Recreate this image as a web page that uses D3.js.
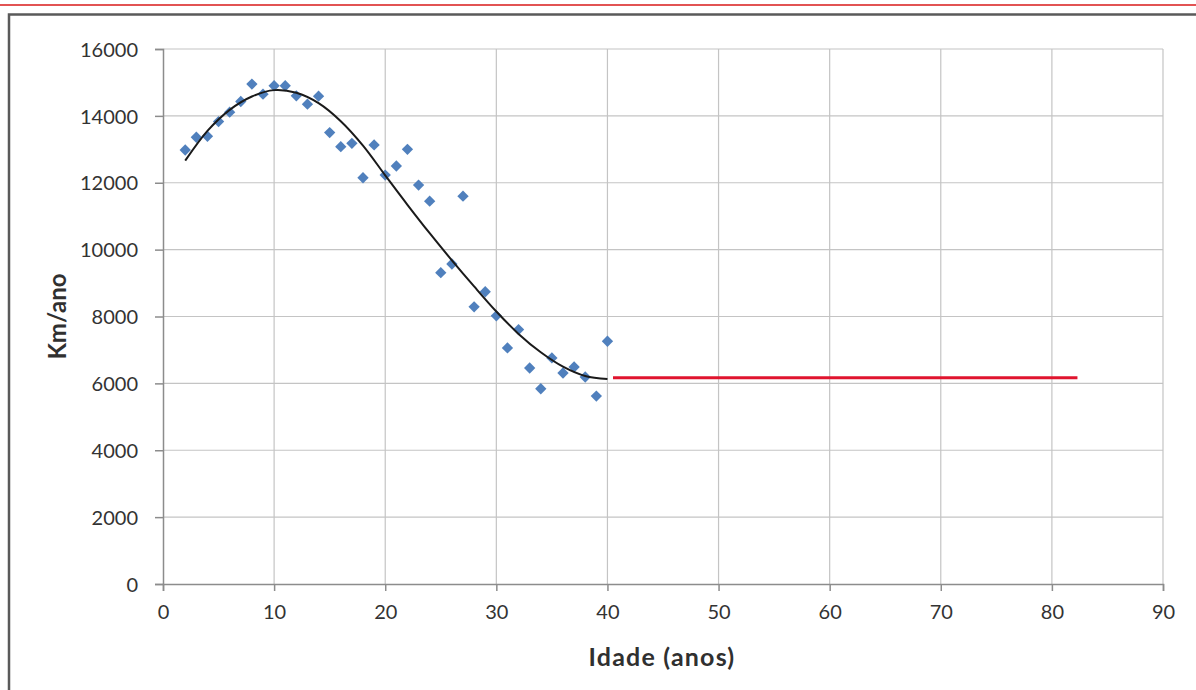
<!DOCTYPE html>
<html>
<head>
<meta charset="utf-8">
<script src="https://cdn.jsdelivr.net/npm/d3@7"></script>
<style>
  body { margin: 0; background: #fff; }
  svg { display: block; }
  .tick text { font-family: Lato, "Open Sans", sans-serif; font-size: 20px; fill: #333; }
  .title { font-family: Lato, "Open Sans", sans-serif; font-size: 24px; font-weight: bold; fill: #303030; }
</style>
</head>
<body>
<svg id="chart"></svg>
<script>
// observed points (idade, km/ano)
const ages = [2, 3, 4, 5, 6, 7, 8, 9, 10, 11, 12, 13, 14, 15, 16, 17, 18, 19, 20, 21,
  22, 23, 24, 25, 26, 27, 28, 29, 30, 31, 32, 33, 34, 35, 36, 37, 38, 39, 40];
const kmPerYear = [12980, 13360, 13390, 13830, 14110, 14430, 14950, 14650, 14900, 14900,
  14600, 14350, 14590, 13500, 13080, 13180, 12150, 13130, 12230, 12500,
  13000, 11930, 11450, 9310, 9570, 11600, 8290, 8740, 8020, 7060,
  7610, 6460, 5840, 6760, 6310, 6490, 6190, 5620, 7260];

// trend line
const trendAges = [2, 4, 6, 8, 10, 12, 14, 16, 18, 20, 22, 24, 26, 28, 30, 32, 34, 36, 38, 40];
const trendKm = [12660, 13550, 14180, 14580, 14770, 14690, 14380, 13840, 13110, 12220,
  11340, 10490, 9680, 8900, 8150, 7480, 6930, 6500, 6220, 6130];

// constant segment after 40 years
const flatAges = [40.5, 82.3];
const flatKm = [6170, 6170];

const xTicks = [0, 10, 20, 30, 40, 50, 60, 70, 80, 90];
const yTicks = [0, 2000, 4000, 6000, 8000, 10000, 12000, 14000, 16000];

const W = 1196, H = 690;
const margin = { top: 49, right: 33, bottom: 106, left: 163 };
const width = W - margin.left - margin.right;
const height = H - margin.top - margin.bottom;

const svg = d3.select('#chart').attr('width', W).attr('height', H);

// page decorations: red rule and the frame
svg.append('line')
  .attr('x1', 0).attr('x2', W).attr('y1', 5).attr('y2', 5)
  .attr('stroke', '#d81a1a').attr('stroke-width', 1.5);
svg.append('path')
  .attr('d', `M9,${H + 5}V14.5H${W + 5}`)
  .attr('fill', 'none').attr('stroke', '#5a5a5a').attr('stroke-width', 2.5);

const x = d3.scaleLinear().domain([0, 90]).range([0, width]);
const y = d3.scaleLinear().domain([0, 16000]).range([height, 0]);

const chart = svg.append('g')
  .attr('transform', `translate(${margin.left}, ${margin.top})`);

// grid
chart.append('g').selectAll('line').data(yTicks.slice(1)).enter().append('line')
  .attr('x1', 0).attr('x2', width)
  .attr('y1', d => y(d)).attr('y2', d => y(d))
  .attr('stroke', '#c4c4c4').attr('stroke-width', 1.2);
chart.append('g').selectAll('line').data(xTicks.slice(1)).enter().append('line')
  .attr('y1', 0).attr('y2', height)
  .attr('x1', d => x(d)).attr('x2', d => x(d))
  .attr('stroke', '#c4c4c4').attr('stroke-width', 1.2);

const xAxis = d3.axisBottom(x).tickValues(xTicks).tickFormat(d3.format('d')).tickSize(7).tickPadding(14);
const yAxis = d3.axisLeft(y).tickValues(yTicks).tickFormat(d3.format('d')).tickSize(8).tickPadding(17);

const gx = chart.append('g')
  .attr('transform', `translate(0, ${height})`)
  .call(xAxis);
const gy = chart.append('g').call(yAxis);
[gx, gy].forEach(g => {
  g.select('.domain').attr('stroke', '#8c8c8c').attr('stroke-width', 1.5);
  g.selectAll('.tick line').attr('stroke', '#8c8c8c').attr('stroke-width', 1.5);
});
gy.selectAll('.tick text').attr('dy', '0.36em');

// points
chart.append('g').selectAll('path').data(ages).enter().append('path')
  .attr('d', d3.symbol(d3.symbolSquare, 64))
  .attr('transform', (d, i) => `translate(${x(d)}, ${y(kmPerYear[i])}) rotate(45)`)
  .attr('fill', '#5080bd');

// trend line
const line = d3.line().x(d => x(d[0])).y(d => y(d[1])).curve(d3.curveCatmullRom);
chart.append('path')
  .datum(trendAges.map((a, i) => [a, trendKm[i]]))
  .attr('d', line)
  .attr('fill', 'none').attr('stroke', '#1a1a1a').attr('stroke-width', 2);

// flat segment
chart.append('path')
  .datum(flatAges.map((a, i) => [a, flatKm[i]]))
  .attr('d', d3.line().x(d => x(d[0])).y(d => y(d[1])))
  .attr('fill', 'none').attr('stroke', '#e0142e').attr('stroke-width', 3);

// axis titles
svg.append('text')
  .attr('class', 'title')
  .attr('transform', `translate(66, ${margin.top + height / 2}) rotate(-90)`)
  .attr('text-anchor', 'middle')
  .text('Km/ano');
svg.append('text')
  .attr('class', 'title')
  .attr('x', margin.left + width / 2 - 1).attr('y', 666)
  .attr('text-anchor', 'middle')
  .style('font-size', '25px').style('letter-spacing', '1.2px')
  .text('Idade (anos)');
</script>
</body>
</html>
